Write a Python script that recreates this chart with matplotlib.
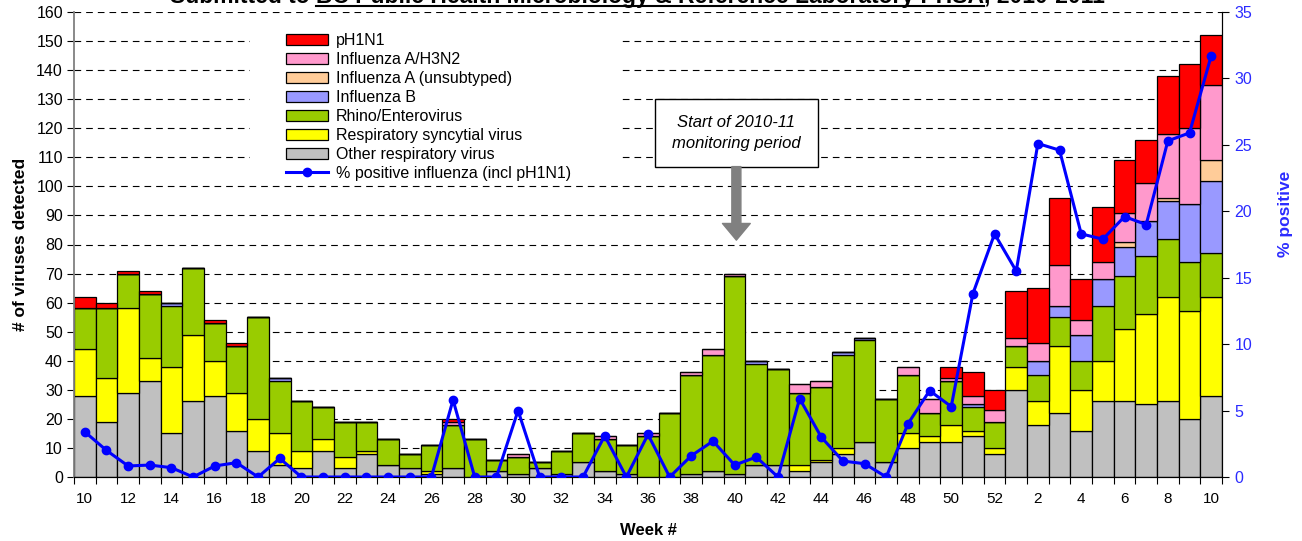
import numpy as np
import matplotlib.pyplot as plt
from matplotlib.lines import Line2D
from matplotlib.patches import Patch, Rectangle
from matplotlib.font_manager import FontProperties

plt.rcParams['font.family'] = ['Liberation Sans', 'DejaVu Sans']

# week labels: 2010 weeks 10-52, then 2011 weeks 1-10
weeks = list(range(10, 53)) + list(range(1, 11))

other = [28, 19, 29, 33, 15, 26, 28, 16, 9, 4,
         3, 9, 3, 8, 4, 3, 1, 3, 0, 2,
         1, 3, 1, 5, 2, 1, 0, 0, 1, 2,
         1, 4, 4, 2, 5, 8, 12, 5, 10, 12,
         12, 14, 8, 30, 18, 22, 16, 26, 26, 25,
         26, 20, 28]
rsv = [16, 15, 29, 8, 23, 23, 12, 13, 11, 11,
       6, 4, 4, 1, 0, 0, 1, 0, 0, 0,
       0, 0, 0, 0, 0, 0, 0, 0, 0, 0,
       0, 0, 0, 2, 1, 2, 0, 0, 5, 2,
       6, 2, 2, 8, 8, 23, 14, 14, 25, 31,
       36, 37, 34]
rhino = [14, 24, 12, 22, 21, 23, 13, 16, 35, 18,
         17, 11, 12, 10, 9, 5, 9, 15, 13, 4,
         6, 2, 8, 10, 11, 10, 14, 22, 34, 40,
         68, 35, 33, 25, 25, 32, 35, 22, 20, 8,
         15, 8, 9, 7, 9, 10, 10, 19, 18, 20,
         20, 17, 15]
flu_b = [0, 0, 0, 0, 1, 0, 0, 0, 0, 1,
         0, 0, 0, 0, 0, 0, 0, 0, 0, 0,
         0, 0, 0, 0, 0, 0, 0, 0, 0, 0,
         0, 1, 0, 0, 0, 1, 1, 0, 0, 0,
         0, 1, 0, 0, 5, 4, 9, 9, 10, 12,
         13, 20, 25]
flu_a = [0, 0, 0, 0, 0, 0, 0, 0, 0, 0,
         0, 0, 0, 0, 0, 0, 0, 0, 0, 0,
         0, 0, 0, 0, 0, 0, 0, 0, 0, 0,
         0, 0, 0, 0, 0, 0, 0, 0, 0, 0,
         0, 0, 0, 0, 0, 0, 0, 0, 2, 0,
         1, 0, 7]
h3n2 = [0, 0, 0, 0, 0, 0, 0, 0, 0, 0,
        0, 0, 0, 0, 0, 0, 0, 1, 0, 0,
        1, 0, 0, 0, 1, 0, 1, 0, 1, 2,
        1, 0, 0, 3, 2, 0, 0, 0, 3, 5,
        1, 3, 4, 3, 6, 14, 5, 6, 10, 13,
        22, 26, 26]
ph1n1 = [4, 2, 1, 1, 0, 0, 1, 1, 0, 0,
         0, 0, 0, 0, 0, 0, 0, 1, 0, 0,
         0, 0, 0, 0, 0, 0, 0, 0, 0, 0,
         0, 0, 0, 0, 0, 0, 0, 0, 0, 0,
         4, 8, 7, 16, 19, 23, 14, 19, 18, 15,
         20, 22, 17]
pct_pos = [3.4, 2.0, 0.83, 0.9, 0.7, 0, 0.83, 1.08, 0, 1.4,
           0, 0, 0, 0, 0, 0, 0, 5.8, 0, 0,
           5.0, 0, 0, 0, 3.1, 0, 3.2, 0, 1.6, 2.7,
           0.9, 1.5, 0, 5.9, 3.0, 1.2, 1.0, 0, 4.0, 6.5,
           5.3, 13.8, 18.3, 15.5, 25.1, 24.6, 18.3, 17.9, 19.6, 19.0,
           25.3, 25.9, 31.7]

series = [
    ('Other respiratory virus', other, '#C0C0C0'),
    ('Respiratory syncytial virus', rsv, '#FFFF00'),
    ('Rhino/Enterovirus', rhino, '#99CC00'),
    ('Influenza B', flu_b, '#9999FF'),
    ('Influenza A (unsubtyped)', flu_a, '#FFCC99'),
    ('Influenza A/H3N2', h3n2, '#FF99CC'),
    ('pH1N1', ph1n1, '#FF0000'),
]
blue = '#0000FF'
tickblue = '#2b2bff'

fig = plt.figure(figsize=(13.02, 5.41), dpi=100)
ax = fig.add_axes([74/1302, 64/541, 1148/1302, 465/541])
ax2 = ax.twinx()

x = np.arange(len(weeks))
bottom = np.zeros(len(weeks))
for name, vals, col in series:
    vals = np.array(vals)
    ax.bar(x, vals, width=1.0, bottom=bottom, color=col,
           edgecolor='black', linewidth=0.9, zorder=2)
    bottom += vals

ax.set_xlim(-0.5, len(weeks) - 0.5)
ax.set_ylim(0, 160)
ax.set_yticks(range(0, 161, 10))
ax.yaxis.grid(True, color='black', linestyle=(0, (6, 4.5)), linewidth=0.8)
ax.set_axisbelow(True)

ax.set_xticks(x[::2])
ax.set_xticklabels([str(w) for w in weeks[::2]])
ax.set_xticks(np.arange(-0.5, len(weeks), 1.0), minor=True)
ax.tick_params(axis='x', which='major', length=0, pad=11, labelsize=11)
ax.tick_params(axis='x', which='minor', length=5, width=0.8)
ax.tick_params(axis='y', length=5, width=0.8, labelsize=11.5, pad=3)

ax.spines['top'].set_visible(False)
ax2.spines['top'].set_visible(False)
ax.spines['left'].set_color('#808080')
ax.spines['left'].set_linewidth(1.3)
ax2.spines['left'].set_visible(False)

ax.set_ylabel('# of viruses detected', fontsize=12.5, fontweight='bold')
ax.yaxis.set_label_coords(-0.040, 0.5)
ax.set_xlabel('Week #', fontsize=12, fontweight='bold')
ax.xaxis.set_label_coords(0.5, -0.099)

ax2.plot(x, pct_pos, color=blue, linewidth=2.2, marker='o', markersize=6,
         zorder=5)
ax2.set_ylim(0, 35)
ax2.set_yticks(range(0, 36, 5))
ax2.tick_params(axis='y', length=5, width=0.8, labelsize=11.5,
                labelcolor=tickblue, pad=4)
ax2.set_ylabel('% positive', fontsize=12.5, fontweight='bold', color=tickblue)
ax2.yaxis.set_label_coords(1.049, 0.566)

# annotation box and arrow
ax.add_patch(Rectangle((26.32, 106.8), 7.55, 23.2, facecolor='white',
                       edgecolor='black', linewidth=1.0, zorder=4))
ax.text(30.08, 118.4, 'Start of 2010-11\nmonitoring period', ha='center',
        va='center', fontsize=12, style='italic', linespacing=1.45, zorder=5)
ax.annotate('', xy=(30.08, 81.5), xytext=(30.08, 106.8),
            arrowprops=dict(arrowstyle='simple,head_length=12,head_width=20,tail_width=6.5',
                            mutation_scale=1, color='#808080', shrinkA=0, shrinkB=0),
            zorder=4)

# white area behind the legend (hides the gridlines there)
ax.add_patch(Rectangle((0.153, 0.64), 0.322, 0.335, transform=ax.transAxes,
                       facecolor='white', edgecolor='none', zorder=1))

# legend
handles = [Patch(facecolor=col, edgecolor='black', linewidth=0.9)
           for _, _, col in series[::-1]]
labels = [name for name, _, _ in series[::-1]]
handles.append(Line2D([0], [0], color=blue, linewidth=2.2, marker='o',
                      markersize=6))
labels.append('% positive influenza (incl pH1N1)')
ax2.legend(handles, labels, loc='upper left',
           bbox_to_anchor=(286/1302, 1 - 33/541), bbox_transform=fig.transFigure,
           frameon=False, fontsize=11.5, borderpad=0, borderaxespad=0,
           labelspacing=0.25, handlelength=2.65, handleheight=0.7,
           handletextpad=0.45)

# title, clipped at top of figure, with underlined lab name
pre = 'Submitted to '
mid = 'BC Public Health Microbiology & Reference Laboratory PHSA'
suf = ', 2010-2011'
tfs = 16.5
x0 = 170
ybase = 3.5
fig.text(x0/1302, 1 - ybase/541, pre + mid + suf, fontsize=tfs,
         fontweight='bold', ha='left', va='baseline')
fig.canvas.draw()
r = fig.canvas.get_renderer()
fp = FontProperties(family=['Liberation Sans', 'DejaVu Sans'], weight='bold', size=tfs)


def tw(s):
    return r.get_text_width_height_descent(s, fp, ismath=False)[0]


u0 = x0 + tw(pre + 'B') - tw('B')
u1 = x0 + tw(pre + mid)
fig.add_artist(Line2D([u0/1302, u1/1302], [1 - 5.8/541] * 2,
                      color='black', linewidth=1.5))

fig.savefig('out.png', dpi=100)
